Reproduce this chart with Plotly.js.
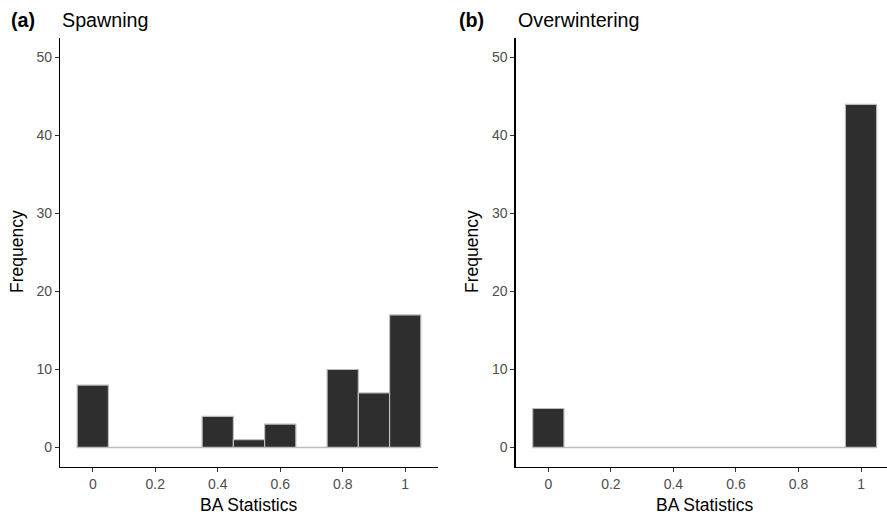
<!DOCTYPE html>
<html><head><meta charset="utf-8">
<script src="https://cdn.plot.ly/plotly-3.0.1.min.js"></script>
<style>body{margin:0;background:#fff}</style>
</head><body>
<div id="chart" style="width:887px;height:517px"></div>
<script>
// Bin centres (width 0.1) and counts
const binCenters = [0, 0.1, 0.2, 0.3, 0.4, 0.5, 0.6, 0.7, 0.8, 0.9, 1.0];
const binWidth = 0.1;
const spawningCounts = [8, 0, 0, 0, 4, 1, 3, 0, 10, 7, 17];
const overwinteringCounts = [5, 0, 0, 0, 0, 0, 0, 0, 0, 0, 44];
const xTickVals = [0, 0.2, 0.4, 0.6, 0.8, 1];
const xTickText = ["0", "0.2", "0.4", "0.6", "0.8", "1"];
const yTickVals = [0, 10, 20, 30, 40, 50];
const panelTitles = ["Spawning", "Overwintering"];
const panelTags = ["(a)", "(b)"];

const fill = '#2e2e2e', edge = '#bdbdbd';
const lo = binCenters[0] - binWidth / 2, hi = binCenters[binCenters.length - 1] + binWidth / 2;

function panel(counts, xa, ya) {
  return [
    {type: 'scatter', mode: 'lines', x: [lo, hi], y: [0, 0], xaxis: xa, yaxis: ya,
     line: {color: edge, width: 1.5}, hoverinfo: 'skip', showlegend: false},
    {type: 'bar', x: binCenters, y: counts, width: binCenters.map(() => binWidth),
     xaxis: xa, yaxis: ya, marker: {color: fill, line: {color: edge, width: 1.2}}, showlegend: false}
  ];
}

const data = [...panel(spawningCounts, 'x', 'y'), ...panel(overwinteringCounts, 'x2', 'y2')];

const font = {family: 'Liberation Sans, Arial, sans-serif'};
const tickFont = {family: 'Liberation Sans, Arial, sans-serif', size: 14, color: '#4d4d4d'};
function xax(domain, range) {
  return {domain, range, tickvals: xTickVals, ticktext: xTickText, ticks: 'outside', ticklen: 4,
    tickcolor: '#333', tickwidth: 1, showline: true, linecolor: '#000', linewidth: 1.2,
    showgrid: false, zeroline: false, tickfont: tickFont, fixedrange: true};
}
function yax(domain, anchor) {
  return {domain, range: [-2.5, 52.5], tickvals: yTickVals, ticks: 'outside', ticklen: 4,
    tickcolor: '#333', tickwidth: 1, showline: true, linecolor: '#000', linewidth: 1.2,
    showgrid: false, zeroline: false, tickfont: tickFont, anchor, fixedrange: true};
}
const yDom = [(517 - 467) / 517, (517 - 38) / 517];

const ann = [];
const titleFont = {family: font.family, size: 19.7, color: '#000'};
const axTitleFont = {family: font.family, size: 17.5, color: '#000'};
[[9, 60], [457, 516]].forEach((p, i) => {
  ann.push({text: '<b>' + panelTags[i] + '</b>', x: p[0] / 887, y: 1 - 20 / 517, xref: 'paper', yref: 'paper',
    xanchor: 'left', yanchor: 'middle', showarrow: false, font: titleFont});
  ann.push({text: panelTitles[i], x: p[1] / 887, y: 1 - 20 / 517, xref: 'paper', yref: 'paper',
    xanchor: 'left', yanchor: 'middle', showarrow: false, font: titleFont});
});
[[249, 17], [705, 472]].forEach((p, i) => {
  ann.push({text: 'BA Statistics', x: p[0] / 887, y: 1 - 505 / 517, xref: 'paper', yref: 'paper',
    xanchor: 'center', yanchor: 'middle', showarrow: false, font: axTitleFont});
  ann.push({text: 'Frequency', x: p[1] / 887, y: 1 - 252 / 517, xref: 'paper', yref: 'paper',
    xanchor: 'center', yanchor: 'middle', textangle: -90, showarrow: false, font: axTitleFont});
});

const layout = {
  width: 887, height: 517, margin: {l: 0, r: 0, t: 0, b: 0},
  paper_bgcolor: '#fff', plot_bgcolor: '#fff', font, bargap: 0,
  xaxis: xax([60 / 887, 438 / 887], [-0.105, 1.105]),
  yaxis: yax(yDom, 'x'),
  xaxis2: xax([515.5 / 887, 1], [-0.105, 1.083]),
  yaxis2: yax(yDom, 'x2'),
  annotations: ann
};
layout.xaxis.anchor = 'y';
layout.xaxis2.anchor = 'y2';
Plotly.newPlot('chart', data, layout, {displayModeBar: false, staticPlot: true});
</script>
</body></html>
